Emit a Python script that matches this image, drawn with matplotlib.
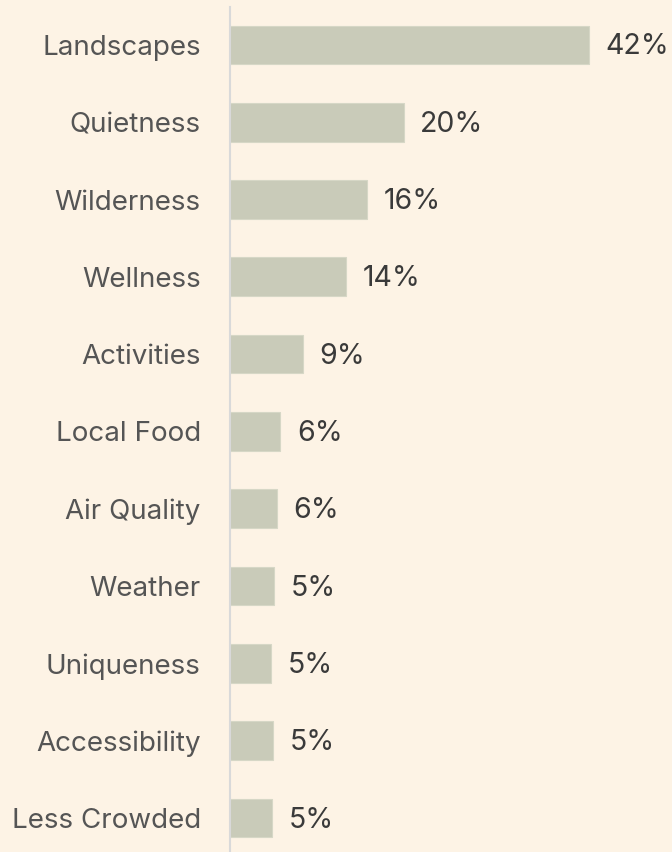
import matplotlib
matplotlib.use('Agg')
import matplotlib.pyplot as plt

categories = ['Landscapes', 'Quietness', 'Wilderness', 'Wellness', 'Activities',
              'Local Food', 'Air Quality', 'Weather', 'Uniqueness',
              'Accessibility', 'Less Crowded']
values = [42.0, 20.3, 16.05, 13.6, 8.5, 5.9, 5.5, 5.2, 4.8, 5.0, 4.9]
value_labels = ['42%', '20%', '16%', '14%', '9%', '6%', '6%', '5%', '5%', '5%', '5%']

bg = '#FDF3E5'
plt.rcParams['font.family'] = ['Inter', 'DejaVu Sans']

fig = plt.figure(figsize=(6.72, 8.52), dpi=100)
fig.patch.set_facecolor(bg)
ax = fig.add_axes([230/672, 0, 442/672, 845/852])
ax.set_facecolor(bg)

ypos = list(range(len(categories)))
ax.barh(ypos, values, height=0.5, color='#C9CBB9', edgecolor='#D6D7C6', linewidth=0.8)

for y, v, lab in zip(ypos, values, value_labels):
    ax.annotate(lab, xy=(v, y), xytext=(12, -1.5), textcoords='offset points',
                va='center', ha='left', fontsize=20.5, color='#3A3A3A')

ax.set_xlim(0, 51.7)
ax.set_ylim(10.44, -0.49)
ax.set_yticks(ypos)
ax.set_yticklabels(categories, fontsize=20, color='#555555')
ax.tick_params(axis='y', length=0, pad=21)
ax.set_xticks([])
for s in ['top', 'right', 'bottom']:
    ax.spines[s].set_visible(False)
ax.spines['left'].set_color('#D9D9D9')
ax.spines['left'].set_linewidth(1.5)

fig.savefig('out.png', dpi=100, facecolor=bg)
